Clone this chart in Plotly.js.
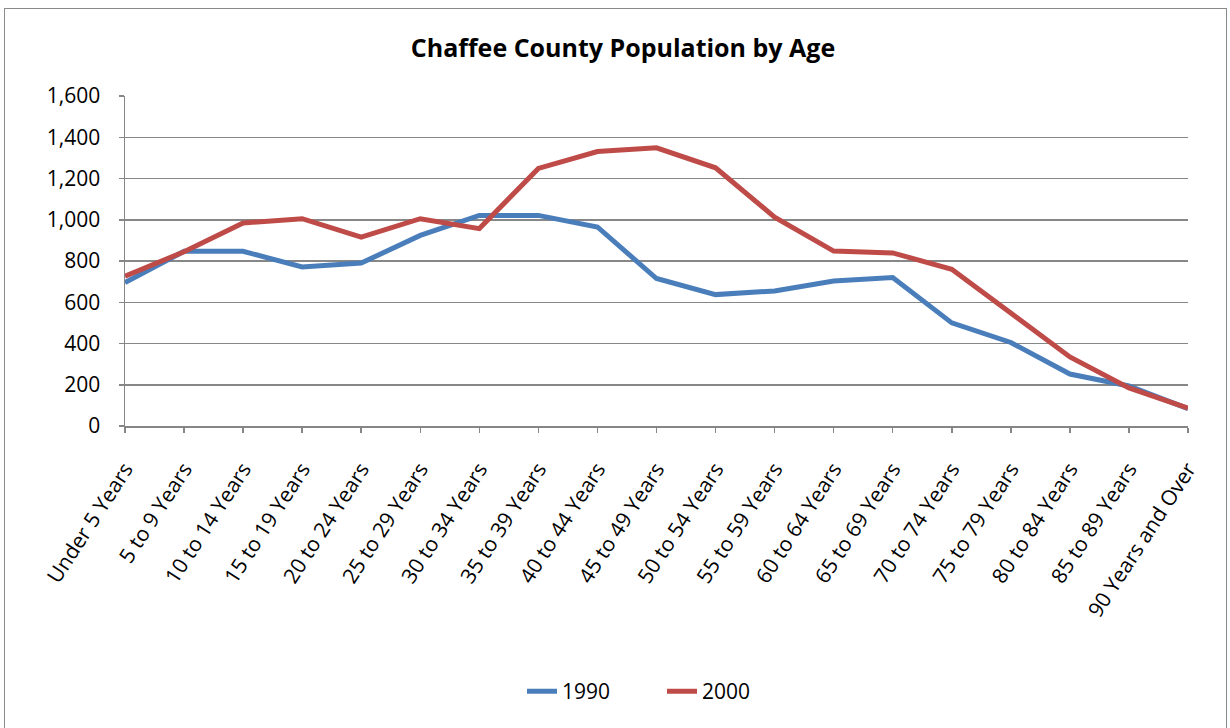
<!DOCTYPE html>
<html>
<head>
<meta charset="utf-8">
<script src="https://cdn.plot.ly/plotly-3.0.1.min.js"></script>
<style>
html,body{margin:0;padding:0;background:#fff;overflow:hidden;}
#chart{position:absolute;left:0;top:0;width:1230px;height:728px;}
#frame{position:absolute;left:4px;top:8px;width:1223px;height:730px;border:1.5px solid #8a8a8a;box-sizing:border-box;pointer-events:none;}
</style>
</head>
<body>
<div id="chart"></div>
<div id="frame"></div>
<script>
const categories = ["Under 5 Years","5 to 9 Years","10 to 14 Years","15 to 19 Years","20 to 24 Years","25 to 29 Years","30 to 34 Years","35 to 39 Years","40 to 44 Years","45 to 49 Years","50 to 54 Years","55 to 59 Years","60 to 64 Years","65 to 69 Years","70 to 74 Years","75 to 79 Years","80 to 84 Years","85 to 89 Years","90 Years and Over"];
const pop1990 = [695, 847, 847, 771, 790, 924, 1021, 1021, 965, 715, 637, 655, 703, 720, 500, 405, 252, 194, 84];
const pop2000 = [726, 845, 984, 1005, 916, 1005, 957, 1249, 1331, 1349, 1252, 1013, 848, 839, 760, 548, 335, 185, 86];
const yTicks = [0, 200, 400, 600, 800, 1000, 1200, 1400, 1600];
const yTickText = ["0","200","400","600","800","1,000","1,200","1,400","1,600"];

const font = "Open Sans, Noto Sans, sans-serif";
const traces = [
  {x: categories, y: pop1990, name: "1990", type: "scatter", mode: "lines",
   line: {color: "#4a7ebb", width: 5}},
  {x: categories, y: pop2000, name: "2000", type: "scatter", mode: "lines",
   line: {color: "#be4b48", width: 5}}
];
const layout = {
  width: 1230, height: 728,
  margin: {l: 125, r: 42, t: 95.5, b: 302, pad: 0},
  paper_bgcolor: "#fff", plot_bgcolor: "#fff",
  font: {family: font, size: 21, color: "#000"},
  title: {text: "<b>Chaffee County Population by Age</b>", x: 623 / 1230, xref: "container", xanchor: "center",
          y: 47, yref: "container", yanchor: "middle",
          font: {family: font, size: 25, color: "#000"}},
  xaxis: {type: "category", range: [0, categories.length - 1], tickangle: -57,
          showgrid: false, showline: true, linecolor: "#868686", linewidth: 1.5,
          ticks: "outside", ticklen: 5, tickcolor: "#868686", tickwidth: 1.5,
          ticklabelstandoff: 16,
          tickfont: {family: font, size: 21, color: "#000"}, automargin: false, zeroline: false},
  yaxis: {range: [0, 1600], tickvals: yTicks, ticktext: yTickText,
          showgrid: true, gridcolor: "#878787", gridwidth: 1.5,
          showline: true, linecolor: "#868686", linewidth: 1.5,
          ticks: "outside", ticklen: 5, tickcolor: "#868686", tickwidth: 1.5,
          ticklabelstandoff: 14,
          tickfont: {family: font, size: 21, color: "#000"}, zeroline: false, automargin: false},
  showlegend: true,
  legend: {orientation: "h", x: (522 - 125) / 1063, xanchor: "left", y: -(692 - 426) / 330.5, yanchor: "middle",
           font: {family: font, size: 21, color: "#000"}, entrywidth: 95, entrywidthmode: "pixels"}
};
Plotly.newPlot("chart", traces, layout, {displayModeBar: false, staticPlot: true});
</script>
</body>
</html>
